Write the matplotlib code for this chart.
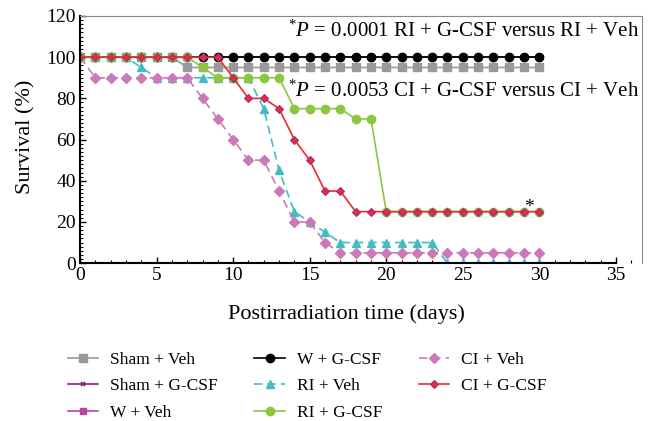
import numpy as np
import matplotlib
matplotlib.use('Agg')
import matplotlib.pyplot as plt
from matplotlib import rcParams
from matplotlib.ticker import MultipleLocator

rcParams['font.family'] = 'serif'
rcParams['font.serif'] = ['Liberation Serif']
rcParams['mathtext.fontset'] = 'custom'
rcParams['mathtext.rm'] = 'Liberation Serif'
rcParams['mathtext.it'] = 'Liberation Serif:italic'

days = list(range(0, 31))

sham_veh = [100]*7 + [95]*24
sham_gcsf = [100]*31
w_veh = [100]*31
w_gcsf = [100]*31
ri_veh = [100, 100, 100, 100, 95, 90, 90, 90, 90, 90, 90, 90, 75, 45, 25, 20, 15,
          10, 10, 10, 10, 10, 10, 10, 0, 0, 0, 0, 0, 0, 0]
ri_gcsf = [100, 100, 100, 100, 100, 100, 100, 100, 95, 90, 90, 90, 90, 90, 75, 75, 75,
           75, 70, 70, 25, 25, 25, 25, 25, 25, 25, 25, 25, 25, 25]
ci_veh = [100, 90, 90, 90, 90, 90, 90, 90, 80, 70, 60, 50, 50, 35, 20, 20, 10,
          5, 5, 5, 5, 5, 5, 5, 5, 5, 5, 5, 5, 5, 5]
ci_gcsf = [100, 100, 100, 100, 100, 100, 100, 100, 100, 100, 90, 80, 80, 75, 60, 50, 35,
           35, 25, 25, 25, 25, 25, 25, 25, 25, 25, 25, 25, 25, 25]

note1 = r'$^{*}\mathit{P}$ = 0.0001 RI + G-CSF versus RI + Veh'
note2 = r'$^{*}\mathit{P}$ = 0.0053 CI + G-CSF versus CI + Veh'

fig = plt.figure(figsize=(6.51, 4.21), dpi=100)
ax = fig.add_axes([0.123, 0.375, 0.863, 0.587])

lw = 1.2
h = {}
h['sv'], = ax.plot(days, sham_veh, color='#999999', marker='s', ms=6, lw=lw, label='Sham + Veh')
h['sg'], = ax.plot(days, sham_gcsf, color='#8B1A8B', marker='x', ms=3.5, mew=1.2, lw=lw, label='Sham + G-CSF')
h['wv'], = ax.plot(days, w_veh, color='#B5479F', marker='s', ms=4, lw=lw, label='W + Veh')
h['wg'], = ax.plot(days, w_gcsf, color='black', marker='o', ms=6, lw=lw, label='W + G-CSF')
h['rv'], = ax.plot(days, ri_veh, color='#3FBDC2', marker='^', ms=6, lw=lw, ls=(0, (5, 3)), label='RI + Veh')
h['cv'], = ax.plot(days, ci_veh, color='#CC79B8', marker='D', ms=5, lw=lw, ls=(0, (5, 3)), label='CI + Veh')
h['rg'], = ax.plot(days, ri_gcsf, color='#8DC63F', marker='o', ms=6, lw=lw, label='RI + G-CSF')
h['cg'], = ax.plot(days, ci_gcsf, color='#EE2A2A', marker='D', ms=4.5, mec='#9B2D8E', mew=0.8, lw=lw, label='CI + G-CSF')

ax.set_xlim(0, 36.7)
ax.set_ylim(0, 120)
ax.spines['bottom'].set_bounds(0, 35)
ax.spines['right'].set_color('#888888')
ax.spines['top'].set_color('#888888')
ax.spines['right'].set_linewidth(0.8)
ax.spines['top'].set_linewidth(0.8)
ax.spines['left'].set_linewidth(1.5)
ax.spines['bottom'].set_linewidth(1.5)

ax.set_xticks(np.arange(0, 36, 5))
ax.xaxis.set_minor_locator(MultipleLocator(1))
ax.set_yticks(np.arange(0, 121, 20))
ax.yaxis.set_minor_locator(MultipleLocator(2))
ax.tick_params(which='both', direction='in', top=False, right=False, labelsize=14, pad=3)
ax.tick_params(which='major', length=4, width=1)
ax.tick_params(which='minor', length=2.5, width=0.8)

ax.set_xlabel('Postirradiation time (days)', fontsize=16)
ax.xaxis.set_label_coords(0.475, -0.165)
ax.set_ylabel('Survival (%)', fontsize=16)
ax.yaxis.set_label_coords(-0.08, 0.51)

ax.text(36.5, 112.5, note1, ha='right', va='center', fontsize=15)
ax.text(36.5, 83.5, note2, ha='right', va='center', fontsize=15)
ax.text(29.3, 23, '*', ha='center', va='bottom', fontsize=14)

order = ['sv', 'sg', 'wv', 'wg', 'rv', 'rg', 'cv', 'cg']
fig.legend([h[k] for k in order], [h[k].get_label() for k in order],
           loc='upper left', bbox_to_anchor=(0.104, 0.165), ncol=3, frameon=False,
           fontsize=12.5, handlelength=1.75, handletextpad=0.7, columnspacing=2.1,
           labelspacing=0.6, borderaxespad=0, borderpad=0)

fig.savefig('out.png', dpi=100)
